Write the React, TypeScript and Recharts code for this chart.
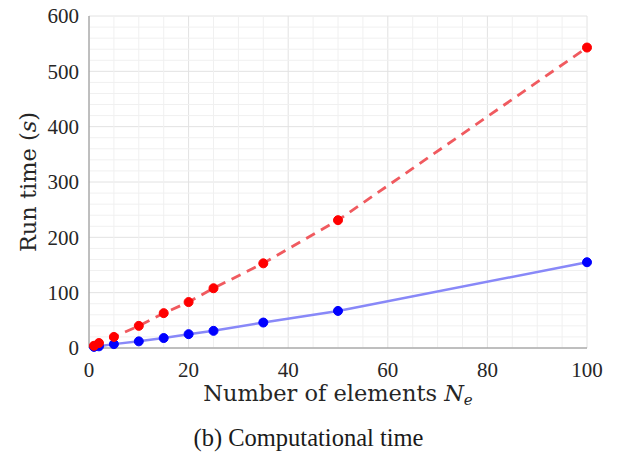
import { LineChart, Line, XAxis, YAxis, CartesianGrid, ReferenceLine, Label } from "recharts";

const nElements = [1, 2, 5, 10, 15, 20, 25, 35, 50, 100];
const dashedTime = [4, 9, 20, 40, 63, 83, 108, 153, 231, 543];
const solidTime = [2, 3, 7, 12, 18, 25, 31, 46, 67, 155];

const xTicks = [0, 20, 40, 60, 80, 100];
const yTicks = [0, 100, 200, 300, 400, 500, 600];
const xMinor = [5, 10, 15, 25, 30, 35, 45, 50, 55, 65, 70, 75, 85, 90, 95];
const yMinor = [20, 40, 60, 80, 120, 140, 160, 180, 220, 240, 260, 280, 320, 340, 360, 380, 420, 440, 460, 480, 520, 540, 560, 580];

const data = nElements.map((n, i) => ({ n, dashed: dashedTime[i], solid: solidTime[i] }));

const serif = "'Liberation Serif', 'Times New Roman', serif";
const wideSerif = "'DejaVu Serif', serif";
const textColor = "#262626";
const axisColor = "#8c8c8c";

function YLabel({ viewBox }: any) {
  const cy = viewBox.y + viewBox.height / 2;
  const cx = 28;
  return (
    <text x={cx} y={cy} transform={`rotate(-90 ${cx} ${cy})`} textAnchor="middle" dominantBaseline="central"
      fontFamily={wideSerif} fontSize={22.5} fill={textColor}>
      Run time (<tspan fontStyle="italic">s</tspan>)
    </text>
  );
}

function XLabel({ viewBox }: any) {
  const cx = viewBox.x + viewBox.width / 2;
  return (
    <text x={cx} y={401} textAnchor="middle" fontFamily={wideSerif} fontSize={22.5} fill={textColor}>
      Number of elements <tspan fontStyle="italic">N</tspan>
      <tspan fontStyle="italic" fontSize={15} dy={4}>e</tspan>
    </text>
  );
}

export default function App() {
  return (
    <div style={{ position: "relative", width: 617, height: 466, margin: "-8px 0 0 -8px", background: "#fff" }}>
      <LineChart width={617} height={410} data={data} margin={{ top: 16, right: 30, left: 29, bottom: 22 }}>
        {xMinor.map((v) => (
          <ReferenceLine key={"x" + v} x={v} stroke="#f0f0f0" strokeWidth={1} />
        ))}
        {yMinor.map((v) => (
          <ReferenceLine key={"y" + v} y={v} stroke="#f0f0f0" strokeWidth={1} />
        ))}
        <CartesianGrid stroke="#e2e2e2" strokeWidth={1} />
        <XAxis
          dataKey="n"
          type="number"
          domain={[0, 100]}
          ticks={xTicks}
          tickLine={false}
          axisLine={{ stroke: axisColor }}
          tick={{ fontFamily: serif, fontSize: 21, fill: textColor }}
          tickMargin={8}
          height={40}
          interval={0}
        >
          <Label content={XLabel} />
        </XAxis>
        <XAxis xAxisId="top" orientation="top" type="number" domain={[0, 100]} ticks={xTicks} tick={false} tickLine={false} axisLine={{ stroke: axisColor }} height={0} />
        <YAxis
          type="number"
          domain={[0, 600]}
          ticks={yTicks}
          tickLine={false}
          axisLine={{ stroke: axisColor }}
          tick={{ fontFamily: serif, fontSize: 21, fill: textColor }}
          tickMargin={4}
          width={60}
          interval={0}
        >
          <Label content={YLabel} />
        </YAxis>
        <YAxis yAxisId="right" orientation="right" type="number" domain={[0, 600]} ticks={yTicks} tick={false} tickLine={false} axisLine={{ stroke: axisColor }} width={0} />
        <Line
          dataKey="solid"
          type="linear"
          stroke="#8888f8"
          strokeWidth={2.5}
          dot={{ r: 4.5, fill: "#0000ff", stroke: "#0000ff", strokeWidth: 1 }}
          isAnimationActive={false}
        />
        <Line
          dataKey="dashed"
          type="linear"
          stroke="#f05a5f"
          strokeWidth={2.8}
          strokeDasharray="10 7"
          dot={{ r: 4.5, fill: "#ff0000", stroke: "#ff0000", strokeWidth: 1, strokeDasharray: "" }}
          isAnimationActive={false}
        />
      </LineChart>
      <div style={{ position: "absolute", left: 0, width: 617, top: 424, textAlign: "center", fontFamily: serif, fontSize: 24.5, color: "#1a1a1a" }}>
        (b) Computational time
      </div>
    </div>
  );
}
